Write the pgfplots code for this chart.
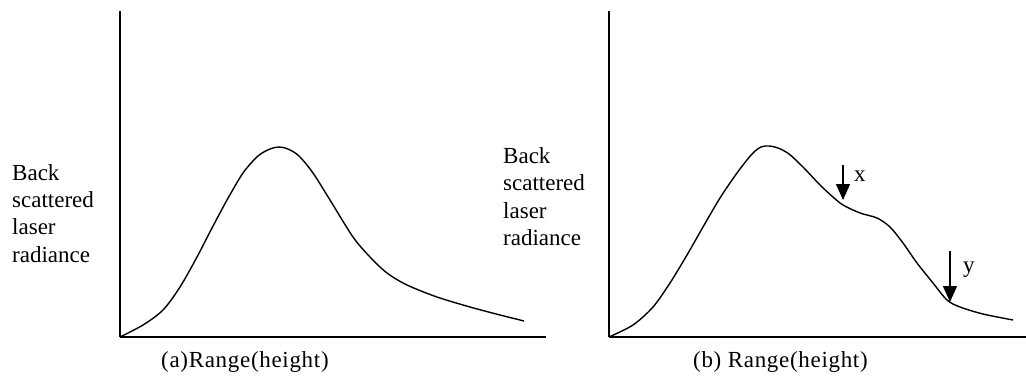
\documentclass[border=0pt]{standalone}
\usepackage{fontspec}
\setmainfont{Liberation Serif}
\usepackage{pgfplots}
\pgfplotsset{compat=1.18}
\usetikzlibrary{arrows.meta}
\begin{document}
\fontsize{23bp}{27bp}\selectfont
\begin{tikzpicture}[x=1bp,y=1bp]
\path[use as bounding box] (0,0) rectangle (1026,376);
% left panel
\begin{axis}[
  at={(120,39)}, anchor=south west,
  x=1bp, y=1bp,
  xmin=120, xmax=546, ymin=39, ymax=365,
  axis lines=left,
  axis line style={-, line width=1.6bp},
  xtick=\empty, ytick=\empty,
  clip=false,
]
\addplot[smooth, line width=1.4bp, black] coordinates {
(120,39) (143,51) (163,66) (180,89) (197,119) (212,148) (227,176) (243,203)
(258,220) (270,227) (279,229) (288,227) (299,220) (313,203) (330,176) (353,139) (370,119)
(387,103) (407,91) (437,79) (470,69) (500,61) (524,55)
};
\end{axis}
% right panel
\begin{axis}[
  at={(609,39)}, anchor=south west,
  x=1bp, y=1bp,
  xmin=609, xmax=1026, ymin=39, ymax=365,
  axis lines=left,
  axis line style={-, line width=1.6bp},
  xtick=\empty, ytick=\empty,
  clip=false,
]
\addplot[smooth, line width=1.4bp, black] coordinates {
(609,39) (633,51) (653,69) (670,93) (687,121) (703,149) (720,178) (737,203)
(752,222) (761,229) (769,230) (778,228) (789,222) (803,209) (820,191) (833,179) (843,171)
(860,163) (877,158) (890,149) (903,133) (917,113) (933,93) (947,76)
(960,69) (983,62) (1013,56)
};
\draw[line width=1.4bp, -{Triangle[length=16bp,width=14bp]}] (axis cs:843,211) -- (axis cs:843,176);
\draw[line width=1.4bp, -{Triangle[length=16bp,width=14bp]}] (axis cs:950,125) -- (axis cs:950,74);
\node[anchor=base west, inner sep=0pt] at (axis cs:854,195) {x};
\node[anchor=base west, inner sep=0pt] at (axis cs:963,104) {y};
\end{axis}
% y labels
\node[anchor=base west, inner sep=0pt] at (12,196) {Back};
\node[anchor=base west, inner sep=0pt] at (12,169) {scattered};
\node[anchor=base west, inner sep=0pt] at (12,142) {laser};
\node[anchor=base west, inner sep=0pt] at (12,114) {radiance};
\node[anchor=base west, inner sep=0pt] at (503,213) {Back};
\node[anchor=base west, inner sep=0pt] at (503,186) {scattered};
\node[anchor=base west, inner sep=0pt] at (503,158) {laser};
\node[anchor=base west, inner sep=0pt] at (503,131) {radiance};
% x labels
\node[anchor=base west, inner sep=0pt] at (161,9) {\addfontfeatures{LetterSpace=3}(a)Range(height)};
\node[anchor=base west, inner sep=0pt] at (693,9) {\addfontfeatures{LetterSpace=3}(b) Range(height)};
\end{tikzpicture}
\end{document}
